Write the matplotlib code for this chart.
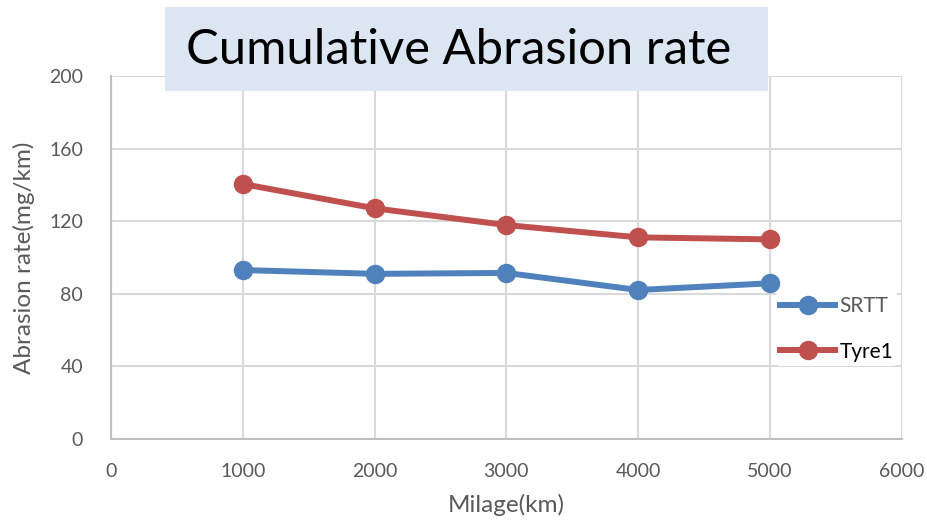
import matplotlib
matplotlib.use("Agg")
import matplotlib.pyplot as plt

# Cumulative abrasion rate per tyre over milage
milage = [1000, 2000, 3000, 4000, 5000]
srtt = [93.1, 91.0, 91.5, 82.1, 85.8]
tyre1 = [140.5, 127.1, 117.9, 111.1, 110.0]

x_ticks = [0, 1000, 2000, 3000, 4000, 5000, 6000]
y_ticks = [0, 40, 80, 120, 160, 200]

plt.rcParams['font.family'] = ['Lato', 'DejaVu Sans']

fig = plt.figure(figsize=(9.28, 5.25), dpi=100)
ax = fig.add_axes([0.1196, 0.1638, 0.852, 0.6914])

ax.plot(milage, srtt, color='#4f81bd', lw=4.3, marker='o', ms=13,
        label='SRTT', zorder=3)
ax.plot(milage, tyre1, color='#c0504d', lw=4.3, marker='o', ms=13,
        label='Tyre1', zorder=3)

ax.set_xlim(0, 6000)
ax.set_ylim(0, 200)
ax.set_xticks(x_ticks)
ax.set_yticks(y_ticks)
ax.grid(True, color='#d9d9d9', lw=1.5)
ax.set_axisbelow(True)
for side in ['top', 'right']:
    ax.spines[side].set_visible(False)
for side in ['left', 'bottom']:
    ax.spines[side].set_color('#bfbfbf')
    ax.spines[side].set_linewidth(1.5)
ax.tick_params(length=0, labelsize=14, labelcolor='#595959')
ax.tick_params(axis='y', pad=20)
ax.tick_params(axis='x', pad=17)

ax.set_xlabel('Milage(km)', fontsize=17.5, color='#595959', labelpad=10)
ax.set_ylabel('Abrasion rate(mg/km)', fontsize=17.5, color='#595959', labelpad=10)

leg = ax.legend(loc='center left', bbox_to_anchor=(0.841, 0.303), frameon=True,
                fontsize=15, handlelength=2.65, handletextpad=0.2,
                labelspacing=1.21, borderpad=0.2, borderaxespad=0)
leg.get_frame().set_facecolor('white')
leg.get_frame().set_edgecolor('none')
leg.get_frame().set_alpha(1)
leg.get_texts()[0].set_color('#595959')
leg.get_texts()[1].set_color('black')

# title panel
fig.patches.append(plt.Rectangle((165 / 928, 1 - 91 / 525), 603 / 928,
                                 84 / 525, transform=fig.transFigure,
                                 facecolor='#dce6f2', edgecolor='none',
                                 zorder=9))
fig.text(186 / 928, 1 - 50 / 525, 'Cumulative Abrasion rate', fontsize=35.3,
         ha='left', va='center', color='black', zorder=10)

fig.savefig('out.png', dpi=100)
